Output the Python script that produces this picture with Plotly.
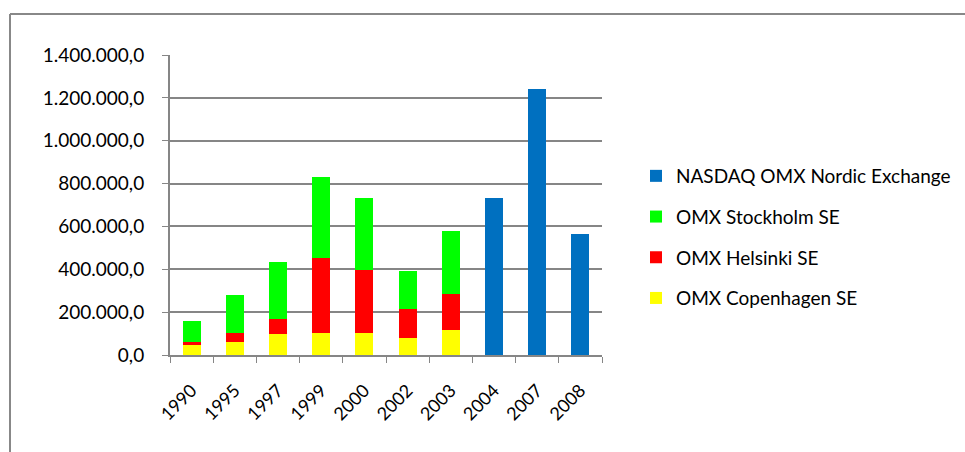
import plotly.graph_objects as go

years = ["1990", "1995", "1997", "1999", "2000", "2002", "2003", "2004", "2007", "2008"]
copenhagen = [47000, 62000, 97000, 104000, 105000, 79000, 117000, None, None, None]
helsinki = [15000, 39000, 73000, 351000, 293000, 136000, 168000, None, None, None]
stockholm = [97000, 179000, 263000, 375000, 333000, 178000, 295000, None, None, None]
nasdaq = [None, None, None, None, None, None, None, 731000, 1241000, 565000]

series = [
    ("OMX Copenhagen SE", copenhagen, "#FFFF00", 4),
    ("OMX Helsinki SE", helsinki, "#FF0000", 3),
    ("OMX Stockholm SE", stockholm, "#00FF00", 2),
    ("NASDAQ OMX Nordic Exchange", nasdaq, "#0070C0", 1),
]

FONT = "Lato"
fig = go.Figure()
for name, vals, col, rank in series:
    fig.add_trace(go.Bar(x=years, y=vals, name=name, marker_color=col,
                         marker_line_width=0, legendgroup=name, legendrank=rank,
                         width=0.42))

L, R, T, B = 170, 363, 55, 97
W, H = 965, 452
pw, ph = W - L - R, H - T - B

def px2x(x):
    return (x - L) / pw

def px2y(y):
    return (H - B - y) / ph

fig.update_layout(
    width=W, height=H,
    margin=dict(l=L, r=R, t=T, b=B, pad=0, autoexpand=False),
    barmode="stack",
    separators=",.",
    plot_bgcolor="white", paper_bgcolor="white",
    font=dict(family=FONT, size=18, color="#000000"),
    legend=dict(x=px2x(636), y=px2y(157), xanchor="left", yanchor="top",
                traceorder="grouped", tracegroupgap=13,
                font=dict(family=FONT, size=19, color="#000000"),
                itemwidth=30),
    xaxis=dict(tickangle=-45, showline=True, linecolor="#868686", linewidth=2,
               ticks="outside", tickson="boundaries", ticklen=6, tickcolor="#868686",
               tickwidth=1, showgrid=False, tickfont=dict(size=18),
               ticklabelstandoff=16, automargin=False),
    yaxis=dict(range=[0, 1400000], dtick=200000, tickformat=",.1f",
               showgrid=True, gridcolor="#868686", gridwidth=2,
               showline=True, linecolor="#868686", linewidth=2,
               ticks="outside", ticklen=6, tickcolor="#868686",
               ticklabelstandoff=14, automargin=False,
               zeroline=False, tickfont=dict(size=19)),
    shapes=[
        dict(type="line", xref="paper", yref="paper", x0=px2x(10), x1=px2x(965),
             y0=px2y(14), y1=px2y(14), line=dict(color="#888888", width=2)),
        dict(type="line", xref="paper", yref="paper", x0=px2x(10), x1=px2x(10),
             y0=px2y(14), y1=px2y(452), line=dict(color="#888888", width=2)),
    ],
    showlegend=True,
)

fig.write_html("out.html", config={"displayModeBar": False},
               post_script="document.body.style.margin='0';document.body.style.overflow='hidden';")
